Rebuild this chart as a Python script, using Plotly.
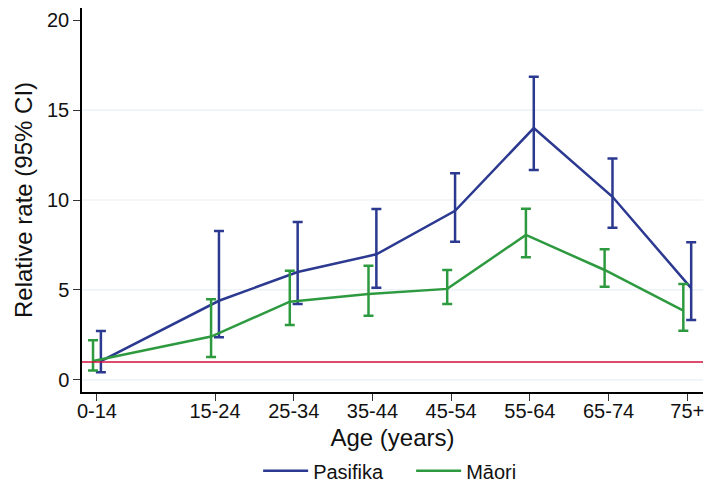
import plotly.graph_objects as go

age_groups = ["0-14", "15-24", "25-34", "35-44", "45-54", "55-64", "65-74", "75+"]
age_pos = [5, 20, 30, 40, 50, 60, 70, 80]

pasifika = [1.05, 4.4, 6.0, 6.98, 9.4, 14.0, 10.18, 5.1]
pasifika_lo = [0.43, 2.37, 4.22, 5.13, 7.68, 11.67, 8.46, 3.33]
pasifika_hi = [2.72, 8.28, 8.78, 9.5, 11.48, 16.85, 12.31, 7.65]

maori = [1.05, 2.41, 4.35, 4.78, 5.06, 8.06, 6.11, 3.85]
maori_lo = [0.52, 1.28, 3.06, 3.57, 4.22, 6.82, 5.18, 2.74]
maori_hi = [2.2, 4.48, 6.07, 6.35, 6.11, 9.52, 7.26, 5.33]

reference_rate = 1
y_ticks = [0, 5, 10, 15, 20]

BLUE = "#2b3990"
GREEN = "#2e9a3f"
RED = "#d3103c"
GRID = "#e8eff3"
FONT = "Liberation Sans, Arial, sans-serif"
OFFSET = 0.5

fig = go.Figure()


def add_series(name, vals, lo, hi, color, off):
    xs = [p + off for p in age_pos]
    fig.add_trace(go.Scatter(
        x=xs, y=vals, name=name, mode="lines",
        line=dict(color=color, width=2.5),
        error_y=dict(type="data", symmetric=False,
                     array=[h - v for h, v in zip(hi, vals)],
                     arrayminus=[v - l for v, l in zip(vals, lo)],
                     color=color, thickness=2.5, width=5),
    ))


add_series("Pasifika", pasifika, pasifika_lo, pasifika_hi, BLUE, OFFSET)
add_series("Māori", maori, maori_lo, maori_hi, GREEN, -OFFSET)

for yv in y_ticks[:-1]:
    fig.add_shape(type="line", xref="paper", x0=0, x1=1, y0=yv, y1=yv,
                  line=dict(color=GRID, width=1.2), layer="below")

fig.add_shape(type="line", xref="paper", x0=0, x1=1,
              y0=reference_rate, y1=reference_rate,
              line=dict(color=RED, width=1.5))

fig.update_layout(
    width=705, height=486,
    margin=dict(l=82, r=2, t=8, b=94, autoexpand=False),
    paper_bgcolor="white", plot_bgcolor="white",
    font=dict(family=FONT, size=20, color="#111111"),
    showlegend=True,
    legend=dict(orientation="h", x=0.53, xanchor="center", y=-0.205,
                yanchor="middle", font=dict(size=20), itemwidth=45,
                entrywidth=93),
    xaxis=dict(range=[3.1, 82], tickvals=age_pos, ticktext=age_groups,
               showgrid=False, zeroline=False, showline=True,
               linecolor="#000000", linewidth=1.5, ticks="outside",
               ticklen=7, tickcolor="#333333", automargin=False,
               ticklabelstandoff=-7,
               title=dict(text="Age (years)", standoff=8)),
    yaxis=dict(range=[-0.67, 20.67], tickvals=y_ticks,
               showgrid=False, zeroline=False, showline=True,
               linecolor="#000000", linewidth=1.5, ticks="outside",
               ticklen=7, tickcolor="#333333", automargin=False,
               title=dict(text="Relative rate (95% CI)", standoff=8)),
)

fig.write_html("out.html")
